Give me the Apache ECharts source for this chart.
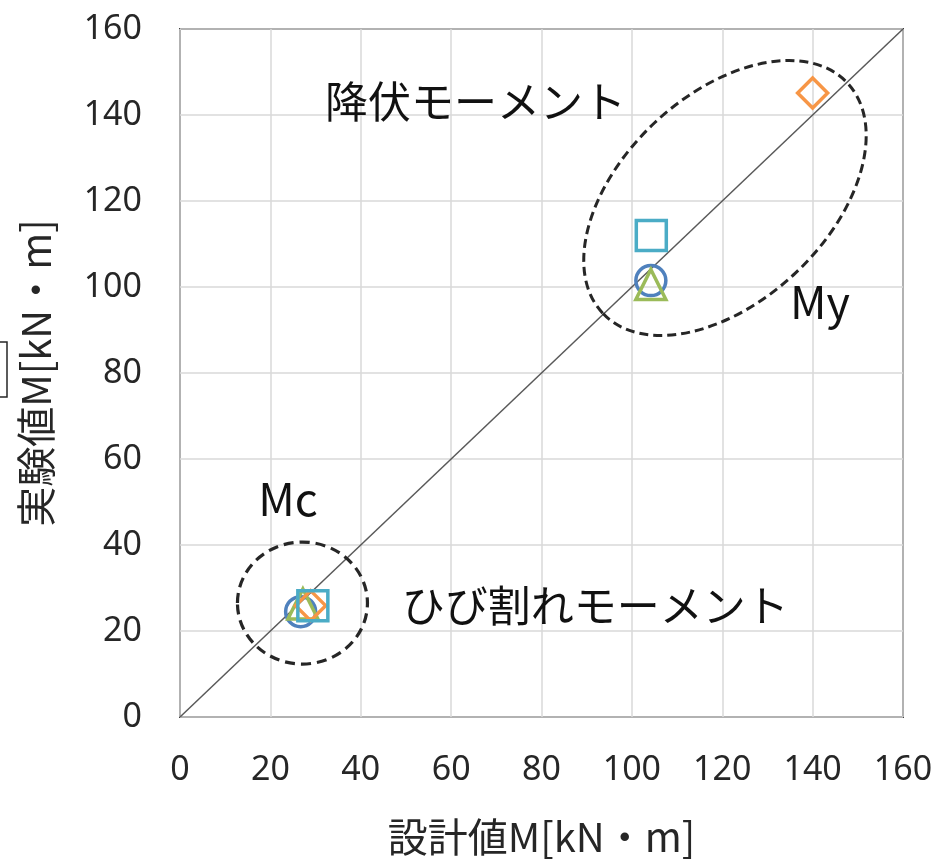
<!DOCTYPE html>
<html>
<head>
<meta charset="utf-8">
<script src="https://cdn.jsdelivr.net/npm/echarts@6/dist/echarts.min.js"></script>
<style>
html,body{margin:0;padding:0;background:#fff;overflow:hidden;}
#c{width:938px;height:859px;}
</style>
</head>
<body>
<div id="c"></div>
<script>
// ---- data ----
var axisTicks = [0, 20, 40, 60, 80, 100, 120, 140, 160];
var seriesNames = ['circle', 'triangle', 'diamond', 'square'];
var circlePts   = [[26.7, 24.5], [104.2, 101.5]];
var trianglePts = [[27.2, 26.3], [104.2, 100.6]];
var diamondPts  = [[28.9, 25.9], [140.0, 145.1]];
var squarePts   = [[29.4, 25.9], [104.3, 112.0]];
var diagonal    = [[0, 0], [160, 160]];
var labels = [
  {text: '降伏モーメント', at: [32.1, 143.0], size: 43},
  {text: 'ひび割れモーメント', at: [49.1, 25.8], size: 43},
  {text: 'Mc', at: [17.3, 50.7], size: 45},
  {text: 'My', at: [135.0, 96.5], size: 45}
];
var ellipseCentres = {mc: [27.1, 26.5], my: [120.6, 120.7]};

var chart = echarts.init(document.getElementById('c'), null, {renderer: 'canvas'});
var tickFont = {fontSize: 34, color: '#262626', fontFamily: 'Noto Sans'};

function scatter(name, data, symbol, color, size) {
  return {
    name: name, type: 'scatter', data: data, symbol: symbol, symbolSize: size,
    itemStyle: {color: 'rgba(0,0,0,0)', borderColor: color, borderWidth: 3.5, opacity: 1},
    emphasis: {disabled: true}, z: 5
  };
}

var option = {
  animation: false,
  grid: {left: 180, right: 35, top: 29, bottom: 142, containLabel: false,
         outerBoundsMode: 'none',
         show: true, borderColor: '#404040', borderWidth: 2},
  xAxis: {
    type: 'value', min: axisTicks[0], max: axisTicks[axisTicks.length - 1], interval: 20,
    name: '設計値M[kN・m]', nameLocation: 'middle', nameGap: 100,
    nameTextStyle: {fontSize: 40, color: '#262626', fontFamily: 'Noto Sans CJK JP'},
    axisLine: {show: false}, axisTick: {show: false},
    axisLabel: Object.assign({margin: 36}, tickFont),
    splitLine: {show: true, lineStyle: {color: '#d9d9d9', width: 1.5}}
  },
  yAxis: {
    type: 'value', min: axisTicks[0], max: axisTicks[axisTicks.length - 1], interval: 20,
    name: '実験値M[kN・m]', nameLocation: 'middle', nameGap: 124, nameRotate: 90,
    nameTextStyle: {fontSize: 40, color: '#262626', fontFamily: 'Noto Sans CJK JP'},
    axisLine: {show: false}, axisTick: {show: false},
    axisLabel: Object.assign({margin: 38}, tickFont),
    splitLine: {show: true, lineStyle: {color: '#d9d9d9', width: 1.5}}
  },
  series: [
    {type: 'line', data: diagonal, symbol: 'none', lineStyle: {color: '#595959', width: 1.5}, z: 3, silent: true},
    scatter(seriesNames[0], circlePts, 'circle', '#4F81BD', 30),
    scatter(seriesNames[1], trianglePts, 'triangle', '#9BBB59', 30),
    scatter(seriesNames[2], diamondPts, 'diamond', '#F79646', 30),
    scatter(seriesNames[3], squarePts, 'rect', '#4BACC6', 30)
  ]
};
chart.setOption(option);

function px(p) { return chart.convertToPixel({gridIndex: 0}, p); }
var mc = px(ellipseCentres.mc), my = px(ellipseCentres.my);
var graphics = [
  {type: 'ellipse', x: mc[0], y: mc[1], shape: {cx: 0, cy: 0, rx: 65, ry: 61},
   style: {fill: 'none', stroke: '#262626', lineWidth: 3.2, lineDash: [10, 6]}, z: 10},
  {type: 'ellipse', x: my[0], y: my[1], rotation: 43.3 * Math.PI / 180,
   shape: {cx: 0, cy: 0, rx: 168, ry: 103},
   style: {fill: 'none', stroke: '#262626', lineWidth: 3, lineDash: [9, 5]}, z: 10},
  {type: 'rect', shape: {x: -20, y: 342, width: 27, height: 55},
   style: {fill: 'none', stroke: '#262626', lineWidth: 1.5}, z: 10}
];
labels.forEach(function (l) {
  var p = px(l.at);
  graphics.push({type: 'text', x: p[0], y: p[1], z: 11,
    style: {text: l.text, fontSize: l.size, fill: '#111', verticalAlign: 'middle', align: 'left',
            fontFamily: 'Noto Sans CJK JP'}});
});
chart.setOption({graphic: graphics});
</script>
</body>
</html>
